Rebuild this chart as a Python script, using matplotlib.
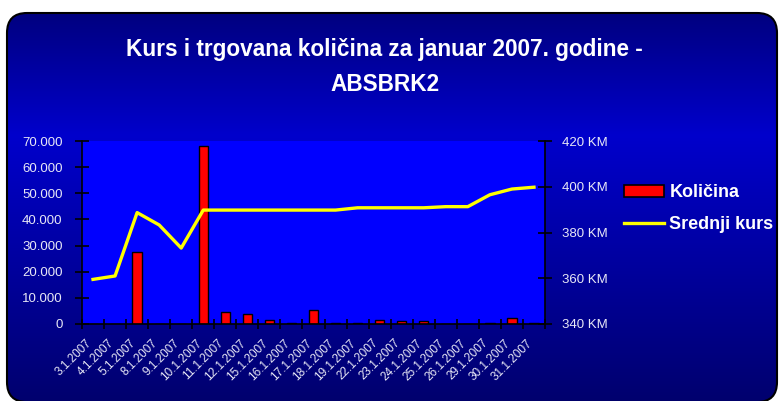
import matplotlib
matplotlib.use("Agg")
import matplotlib.pyplot as plt
import numpy as np
from matplotlib.patches import FancyBboxPatch, Rectangle
from matplotlib.lines import Line2D
from matplotlib.ticker import FuncFormatter, MultipleLocator

plt.rcParams['font.family'] = ['Liberation Sans', 'DejaVu Sans']

dates = ["3.1.2007", "4.1.2007", "5.1.2007", "8.1.2007", "9.1.2007", "10.1.2007",
         "11.1.2007", "12.1.2007", "15.1.2007", "16.1.2007", "17.1.2007", "18.1.2007",
         "19.1.2007", "22.1.2007", "23.1.2007", "24.1.2007", "25.1.2007", "26.1.2007",
         "29.1.2007", "30.1.2007", "31.1.2007"]
kolicina = [0, 0, 27500, 0, 0, 68000, 4500, 3800, 1500, 500, 5500, 300,
            300, 1600, 1000, 1000, 0, 0, 300, 2200, 300]
srednji_kurs = [359.5, 361, 388.7, 383.3, 373.2, 389.8, 389.8, 389.8, 389.8, 389.8,
                389.8, 389.8, 390.8, 390.8, 390.8, 390.8, 391.3, 391.3, 396.5, 399, 399.8]

title = "Kurs i trgovana količina za januar 2007. godine -\nABSBRK2"

W, H = 779, 401
fig = plt.figure(figsize=(W / 100, H / 100), dpi=100)
fig.patch.set_facecolor('white')

# background with gradient
bg = fig.add_axes([0, 0, 1, 1], zorder=-5)
bg.set_xlim(0, W)
bg.set_ylim(0, H)
bg.axis('off')
ys = np.arange(H)
stops_y = [0, 13, 135, 401]
stops_b = [0.50, 0.50, 0.80, 0.43]
b = np.interp(ys, stops_y, stops_b)
grad = np.zeros((H, 1, 3))
grad[:, 0, 2] = b
im = bg.imshow(grad, extent=(0, W, 0, H), origin='upper', aspect='auto',
               interpolation='bilinear')
box = FancyBboxPatch((7, H - 402), 770, 389, boxstyle="round,pad=0,rounding_size=20",
                     facecolor='none', edgecolor='black', linewidth=1.5)
bg.add_patch(box)
im.set_clip_path(box)

# main axes
x0, x1, ytop, ybot = 82, 545, 141, 324
ax = fig.add_axes([x0 / W, 1 - ybot / H, (x1 - x0) / W, (ybot - ytop) / H])
ax.set_facecolor('#0000FF')
n = len(dates)
xs = np.arange(n)
ax.bar(xs, kolicina, width=0.42, color='#FF0000', edgecolor='black', linewidth=1.0, zorder=2)
ax.set_xlim(-0.5, n - 0.5)
ax.set_ylim(0, 70000)
ax.yaxis.set_major_locator(MultipleLocator(10000))
ax.yaxis.set_major_formatter(FuncFormatter(lambda v, p: f"{int(v):,}".replace(",", ".")))

ax2 = ax.twinx()
ax2.plot(xs, srednji_kurs, color='#FFFF00', linewidth=2.4, zorder=3)
ax2.set_ylim(340, 420)
ax2.yaxis.set_major_locator(MultipleLocator(20))
ax2.yaxis.set_major_formatter(FuncFormatter(lambda v, p: f"{int(v)} KM"))

for a in (ax, ax2):
    a.spines['top'].set_visible(False)
    for s in ('left', 'right', 'bottom'):
        a.spines[s].set_color('black')
        a.spines[s].set_linewidth(1.2)
ax.spines['right'].set_visible(False)
ax2.spines['left'].set_visible(False)
ax2.spines['bottom'].set_visible(False)

tick_color = '#E8E8F6'
ax.tick_params(axis='y', direction='inout', length=10, width=1.2, color='black',
               labelcolor=tick_color, labelsize=9.5, pad=9)
ax2.tick_params(axis='y', direction='inout', length=10, width=1.2, color='black',
                labelcolor=tick_color, labelsize=9.5, pad=7)

# x ticks at category boundaries, labels at centers
ax.set_xticks(np.arange(-0.5, n, 1.0))
ax.set_xticklabels([])
ax.tick_params(axis='x', direction='inout', length=7, width=1.2, color='black')
for i, d in enumerate(dates):
    ax.annotate(d, xy=(i, 0), xycoords=('data', 'axes fraction'),
                xytext=(1, -13), textcoords='offset pixels',
                rotation=45, ha='right', va='top', fontsize=8.5, color=tick_color)

fig.text(0.494, 1 - 67 / H, title, ha='center', va='center', color='white',
         fontsize=16.3, fontweight='bold', linespacing=1.68)

handles = [Rectangle((0, 0), 1, 1, facecolor='#FF0000', edgecolor='black', linewidth=1.2),
           Line2D([0], [0], color='#FFFF00', linewidth=2.4)]
leg = fig.legend(handles, ["Količina", "Srednji kurs"], loc='upper left',
                 bbox_to_anchor=(608 / W, 1 - 168 / H), frameon=False,
                 prop={'weight': 'bold', 'size': 13}, labelcolor='white',
                 handlelength=2.2, handleheight=0.6, handletextpad=0.3, labelspacing=0.8)

fig.savefig('out.png', dpi=100, facecolor=fig.get_facecolor())
